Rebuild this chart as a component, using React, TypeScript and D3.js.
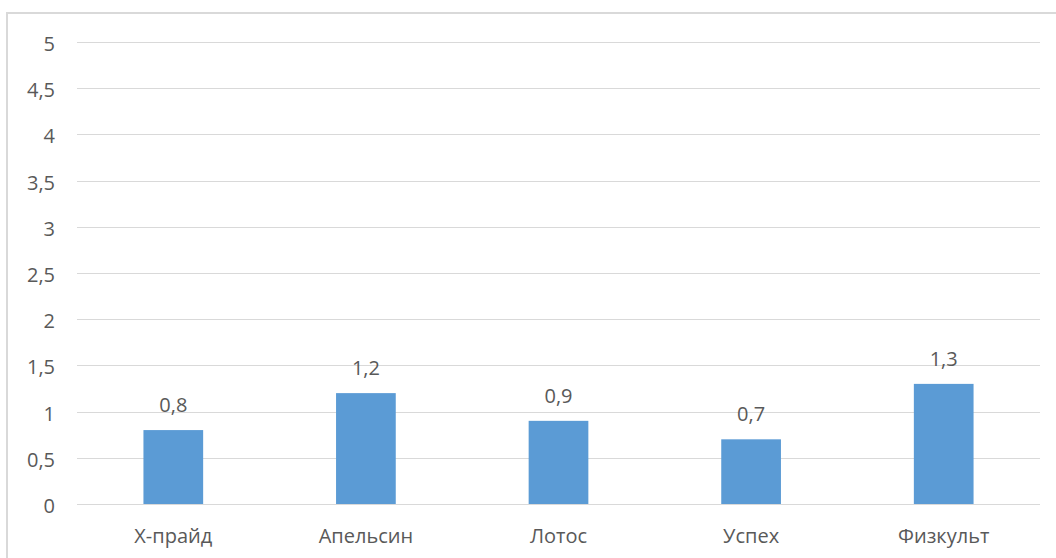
import React from "react";
import * as d3 from "d3";

const categories = ["Х-прайд", "Апельсин", "Лотос", "Успех", "Физкульт"];
const values = [0.8, 1.2, 0.9, 0.7, 1.3];
const yTicks = [0, 0.5, 1, 1.5, 2, 2.5, 3, 3.5, 4, 4.5, 5];

const W = 1056;
const H = 558;
const plot = { left: 77, right: 1040, top: 42, bottom: 504 };
const font = "'Open Sans', sans-serif";
const textColor = "#595959";
const fontSize = 20;

const fmt = (v: number) => String(v).replace(".", ",");

export default function App() {
  const x = d3
    .scaleBand<string>()
    .domain(categories)
    .range([plot.left, plot.right])
    .paddingInner(0.69)
    .paddingOuter(0.345);
  const y = d3.scaleLinear().domain([0, 5]).range([plot.bottom, plot.top]);

  return (
    <svg
      width={W}
      height={H}
      style={{ position: "absolute", left: 0, top: 0, background: "#fff" }}
    >
      <rect x={7} y={13} width={W} height={H} fill="#fff" stroke="#d9d9d9" strokeWidth={2} />
      {yTicks.map((t) => (
        <g key={t}>
          <line
            x1={plot.left}
            x2={plot.right}
            y1={Math.round(y(t)) + 0.5}
            y2={Math.round(y(t)) + 0.5}
            stroke="#d9d9d9"
            strokeWidth={1}
          />
          <text
            x={55}
            y={y(t) + 9}
            textAnchor="end"
            fontFamily={font}
            fontSize={fontSize}
            fill={textColor}
          >
            {fmt(t)}
          </text>
        </g>
      ))}
      {categories.map((c, i) => (
        <g key={c}>
          <rect
            x={x(c)}
            y={y(values[i])}
            width={x.bandwidth()}
            height={y(0) - y(values[i])}
            fill="#5b9bd5"
          />
          <text
            x={(x(c) as number) + x.bandwidth() / 2}
            y={y(values[i]) - 18}
            textAnchor="middle"
            fontFamily={font}
            fontSize={fontSize}
            fill={textColor}
          >
            {fmt(values[i])}
          </text>
          <text
            x={(x(c) as number) + x.bandwidth() / 2}
            y={543}
            textAnchor="middle"
            fontFamily={font}
            fontSize={fontSize}
            fill={textColor}
          >
            {c}
          </text>
        </g>
      ))}
    </svg>
  );
}
